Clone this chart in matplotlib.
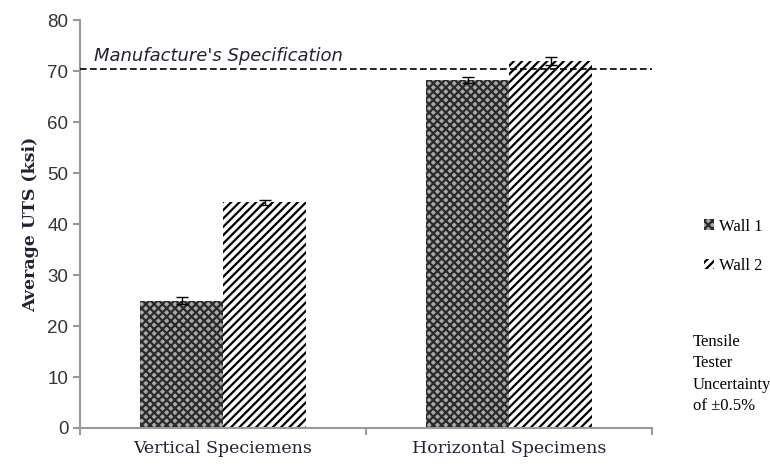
import matplotlib.pyplot as plt
import numpy as np

categories = ["Vertical Speciemens", "Horizontal Specimens"]
wall1 = [25.0, 68.2]
wall2 = [44.3, 72.0]
wall1_err = [0.6, 0.6]
wall2_err = [0.5, 0.8]
spec_value = 70.5
yticks = [0, 10, 20, 30, 40, 50, 60, 70, 80]

plt.rcParams['hatch.linewidth'] = 1.6

fig = plt.figure(figsize=(7.7, 4.68), dpi=100)
ax = fig.add_axes([0.104, 0.0855, 0.743, 0.8715])

x = np.arange(len(categories))
w = 0.29

b1 = ax.bar(x - w / 2, wall1, w, color='#a8a8a8', hatch='xxxx', edgecolor='#2a2a2a',
            linewidth=0, yerr=wall1_err, capsize=4,
            error_kw=dict(elinewidth=1, ecolor='black', capthick=1), label='Wall 1')
b2 = ax.bar(x + w / 2, wall2, w, color='white', hatch='////', edgecolor='black',
            linewidth=0, yerr=wall2_err, capsize=4,
            error_kw=dict(elinewidth=1, ecolor='black', capthick=1), label='Wall 2')

# manufacturer's spec line
ax.axhline(spec_value, color='black', linestyle=(0, (4, 2)), linewidth=1.2, zorder=3)
ax.text(-0.45, spec_value + 1.4, "Manufacture's Specification", style='italic',
        fontsize=13, family='DejaVu Sans', color='#222233')

ax.set_xlim(-0.5, 1.5)
ax.set_ylim(0, 80)
ax.set_yticks(yticks)
ax.set_xticks(x)
ax.set_xticklabels(categories, family='DejaVu Serif', fontsize=12.5, color='#222233')
ax.tick_params(axis='x', length=0, pad=9)
ax.set_xticks([-0.5, 0.5, 1.5], minor=True)
ax.tick_params(axis='x', which='minor', length=5, color='#999999', width=1.5)
ax.tick_params(axis='y', length=5, color='#999999', width=1.5, labelsize=13.5,
               labelcolor='#333333')
for lab in ax.get_yticklabels():
    lab.set_family('Liberation Sans')

for s in ['top', 'right']:
    ax.spines[s].set_visible(False)
for s in ['left', 'bottom']:
    ax.spines[s].set_color('#999999')
    ax.spines[s].set_linewidth(1.5)

ax.set_ylabel('Average UTS (ksi)', family='DejaVu Serif', fontweight='bold',
              fontsize=12.5, labelpad=6, color='#222233')

leg = fig.legend(handles=[b1, b2], loc='upper left', bbox_to_anchor=(0.895, 0.565),
                 frameon=False, prop={'family': 'Liberation Serif', 'size': 12},
                 handlelength=0.6, handleheight=0.6, handletextpad=0.3,
                 labelspacing=1.4)

fig.text(0.9, 0.115, "Tensile\nTester\nUncertainty\nof \u00b10.5%",
         family='Liberation Serif', fontsize=12, linespacing=1.45, va='bottom')

fig.savefig('out.png', dpi=100)
